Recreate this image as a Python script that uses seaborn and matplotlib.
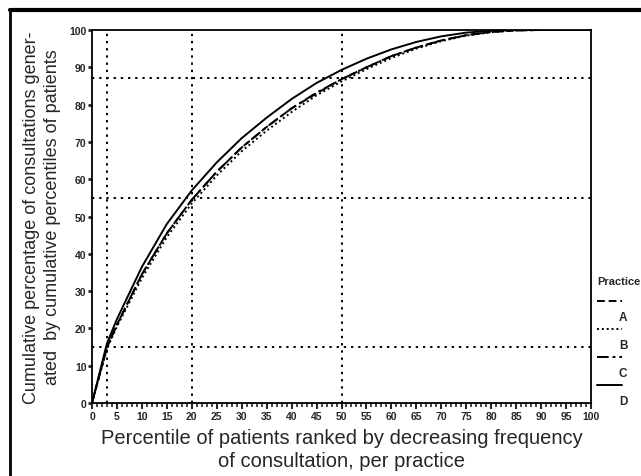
import numpy as np
import pandas as pd
import matplotlib
matplotlib.use("Agg")
import matplotlib.pyplot as plt
from matplotlib.lines import Line2D
import seaborn as sns

# ---- data ----
percentile = [0, 3, 5, 10, 15, 20, 25, 30, 35, 40, 45, 50, 55, 60, 65, 70, 75, 80, 85, 90, 95, 100]
practice_A = [0, 15, 21, 34.5, 45.5, 54.5, 62, 68.5, 74, 79, 83, 86.8, 90, 93, 95.3, 97.2, 98.6, 99.5, 99.9, 100, 100, 100]
practice_B = [0, 14.5, 20.5, 33.5, 44.5, 53.5, 61, 67.5, 73, 78, 82.5, 86.2, 89.5, 92.5, 95, 97, 98.5, 99.4, 99.9, 100, 100, 100]
practice_C = [0, 15, 21, 34.5, 45.5, 54.5, 62, 68.5, 74, 79, 83.2, 86.8, 90, 93, 95.3, 97.2, 98.6, 99.5, 99.9, 100, 100, 100]
practice_D = [0, 16, 22.5, 36.5, 48, 57, 64.5, 71, 76.5, 81.5, 85.8, 89.3, 92.3, 94.8, 96.8, 98.3, 99.3, 99.8, 100, 100, 100, 100]
practices = ["A", "B", "C", "D"]
ref_x = [3, 20, 50]
ref_y = [15, 55, 87]
x_ticks = list(range(0, 101, 5))
y_ticks = list(range(0, 101, 10))

df = pd.DataFrame({
    "percentile": percentile * 4,
    "cum": practice_A + practice_B + practice_C + practice_D,
    "practice": sum([[p] * len(percentile) for p in practices], []),
})

sns.set_style("white")
plt.rcParams["font.family"] = ["Liberation Sans", "DejaVu Sans"]

fig = plt.figure(figsize=(6.41, 4.77), dpi=100)
ax = fig.add_axes([92 / 641, 1 - 404 / 477, (591 - 92) / 641, (404 - 31) / 477])

styles = {"A": (0, (4, 2)), "B": (0, (1, 1.5)), "C": (0, (6, 2, 1.5, 2)), "D": "-"}
for p in practices:
    sns.lineplot(data=df[df["practice"] == p], x="percentile", y="cum", ax=ax,
                 color="black", linewidth=1.4, linestyle=styles[p], legend=False)

for xv in ref_x:
    ax.axvline(xv, color="black", linestyle=(0, (1.2, 2.5)), linewidth=1.4)
for yv in ref_y:
    ax.axhline(yv, color="black", linestyle=(0, (1.2, 2.5)), linewidth=1.4)

ax.set_xlim(0, 100)
ax.set_ylim(0, 100)
ax.set_xticks(x_ticks)
ax.set_yticks(y_ticks)
ax.set_xticks(range(0, 101, 1), minor=True)
ax.set_xticklabels([str(t) for t in x_ticks], fontsize=7.5, fontweight="bold")
ax.set_yticklabels([str(t) for t in y_ticks], fontsize=7.5, fontweight="bold")
ax.tick_params(axis="x", which="major", direction="out", length=4, width=1.5, pad=2, bottom=True)
ax.tick_params(axis="x", which="minor", direction="out", length=3, width=1.2, bottom=True)
ax.tick_params(axis="y", which="major", direction="out", length=3, width=2, pad=1, left=True)
for s in ax.spines.values():
    s.set_color("black")
    s.set_linewidth(1.3)

ax.set_xlabel("Percentile of patients ranked by decreasing frequency\nof consultation, per practice",
              fontsize=14.5, linespacing=1.25, labelpad=5)
ax.set_ylabel("Cumulative percentage of consultations gener-\nated  by cumulative percentiles of patients",
              fontsize=13, linespacing=1.3, labelpad=6)

# legend drawn outside to the right
fig.text(597 / 641, 1 - 282 / 477, "Practice", fontsize=8, fontweight="bold", va="center", ha="left")
legend_y = [302, 330, 358, 386]
for p, ly in zip(practices, legend_y):
    fig.add_artist(Line2D([597 / 641, 622 / 641], [1 - ly / 477] * 2, color="black",
                          linewidth=1.4, linestyle=styles[p]))
    fig.text(623 / 641, 1 - (ly + 16) / 477, p, fontsize=8.5, fontweight="bold", ha="center", va="center")

# page frame lines
fig.add_artist(Line2D([10 / 641, 1], [1 - 11 / 477] * 2, color="black", linewidth=3))
fig.add_artist(Line2D([10 / 641] * 2, [0, 1 - 11 / 477], color="black", linewidth=2))

fig.savefig("out.png", dpi=100)
